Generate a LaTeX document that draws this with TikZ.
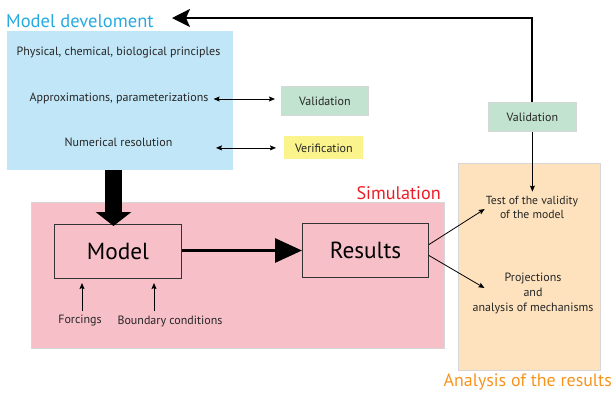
\documentclass[tikz,border=0pt]{standalone}
\usepackage{fontspec}
\setmainfont{PT Sans}
\usetikzlibrary{arrows.meta,calc}
\definecolor{blueF}{HTML}{C1E6F7}
\definecolor{blueT}{HTML}{27AAE1}
\definecolor{greenF}{HTML}{C2E3CF}
\definecolor{yellowF}{HTML}{FBF38C}
\definecolor{pinkF}{HTML}{F7BFC7}
\definecolor{orangeF}{HTML}{FDE2BD}
\definecolor{simR}{HTML}{ED1C24}
\definecolor{anaO}{HTML}{F7941D}
\definecolor{edgeG}{HTML}{D6D6D6}
\definecolor{boxE}{HTML}{333333}
\tikzset{
  area/.style={anchor=north west,inner sep=0,outer sep=0},
  txt/.style={font=\fontsize{12bp}{14bp}\selectfont,align=center,inner sep=0,text=black!85},
  tag/.style={draw=edgeG,line width=0.8bp,anchor=north west,inner sep=0,text=black!85,font=\fontsize{12bp}{14bp}\selectfont},
  bigbox/.style={draw=boxE,line width=1bp,anchor=north west,inner sep=0,font=\fontsize{23.3bp}{26bp}\selectfont},
  title/.style={inner sep=0,font=\fontsize{18.5bp}{20bp}\selectfont},
  small/.style={-{Stealth[length=6bp,width=5bp,inset=1bp]},line width=0.8bp},
  dbl/.style={{Stealth[length=6bp,width=5bp,inset=1bp]}-{Stealth[length=6bp,width=5bp,inset=1bp]},line width=0.8bp},
}
\begin{document}
\begin{tikzpicture}[x=1bp,y=-1bp]
\useasboundingbox (0,0) rectangle (613,392);
% areas
\node[area,fill=blueF,minimum width=226bp,minimum height=139bp] (blue) at (7,31) {};
\node[area,fill=pinkF,draw=edgeG,line width=0.6bp,minimum width=413bp,minimum height=146bp] (pink) at (31,202) {};
\node[area,fill=orangeF,draw=edgeG,line width=0.8bp,minimum width=142bp,minimum height=207bp] (orange) at (458,163) {};
% titles
\node[title,text=blueT,anchor=west] (t1) at (6,21) {Model develoment};
\node[title,text=simR,anchor=east,font=\fontsize{18.2bp}{20bp}\selectfont] (t2) at (441,193) {Simulation};
\node[title,text=anaO,anchor=east,font=\fontsize{17.9bp}{20bp}\selectfont] (t3) at (612,382) {Analysis of the results};
% blue box content
\node[txt] (phys) at (118.5,53) {Physical, chemical, biological principles};
\node[txt] (appr) at (119,98) {Approximations, parameterizations};
\node[txt] (num) at (118.5,142) {Numerical resolution};
\node[tag,fill=greenF,minimum width=87bp,minimum height=29bp] (val1) at (281,86) {Validation};
\node[tag,fill=yellowF,draw=none,minimum width=79bp,minimum height=23bp] (verif) at (284,136) {Verification};
\draw[dbl] ([xshift=5bp,yshift=-1bp]appr.east) -- ([xshift=-6bp]val1.west |- 0,99);
\draw[dbl] ([xshift=-68bp]verif.west) -- ([xshift=-8bp]verif.west);
% simulation
\node[bigbox,minimum width=127bp,minimum height=54bp] (model) at (54,224) {Model};
\node[bigbox,minimum width=126bp,minimum height=54bp] (res) at (302,223) {Results};
\draw[line width=17bp,-{Triangle[length=14bp,width=35bp]}] ([xshift=-4.5bp]model.north |- blue.south) -- ([xshift=-4.5bp,yshift=-2bp]model.north);
\draw[line width=3bp,-{Triangle[length=27bp,width=24bp]}] ([yshift=1bp]model.east) -- ([yshift=1bp]model.east -| res.west);
\node[txt] (forc) at (80,321) {Forcings};
\node[txt] (bound) at (170,321) {Boundary conditions};
\draw[small] ([xshift=2bp,yshift=4bp]forc.north) -- ([xshift=2bp,yshift=-4bp]forc.north |- model.south);
\draw[small] ([xshift=-16bp,yshift=4bp]bound.north) -- ([xshift=-16bp,yshift=-4bp]bound.north |- model.south);
% analysis
\node[tag,fill=greenF,minimum width=88bp,minimum height=29bp] (val2) at (488,102) {Validation};
\node[txt,font=\fontsize{11.7bp}{14bp}\selectfont] (test) at (532,207) {Test of the validity\\of the model};
\node[txt,font=\fontsize{12bp}{15bp}\selectfont] (proj) at (533,293) {Projections\\and\\analysis of mechanisms};
\coordinate (fb) at (172,18);
\draw[line width=2bp,-{Stealth[length=18bp,width=18bp,inset=4bp]}] (val2.north) |- (fb);
\draw[small] (val2.south) -- ([yshift=4bp]test.north -| val2.south);
\draw[small] ([yshift=6bp]res.east) -- ([xshift=-1bp,yshift=-2bp]test.west);
\draw[small] ([yshift=-5bp]res.east) -- ([xshift=12bp,yshift=5bp]proj.west);
\end{tikzpicture}
\end{document}
